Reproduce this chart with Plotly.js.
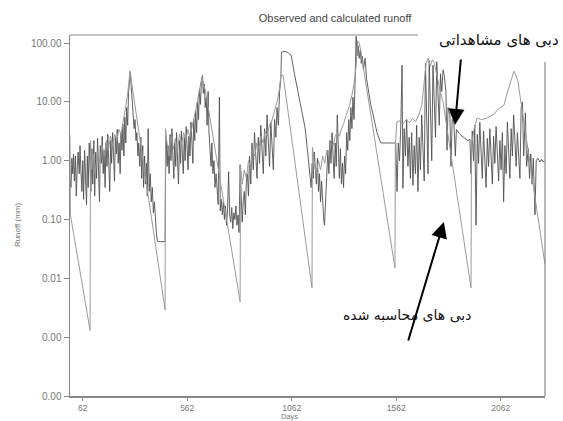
<!DOCTYPE html>
<html>
<head>
<meta charset="utf-8">
<script src="https://cdn.plot.ly/plotly-3.0.1.min.js"></script>
<style>html,body{margin:0;padding:0;background:#fff;}#chart{width:563px;height:421px;}</style>
</head>
<body>
<div id="chart"></div>
<script>
// ---- data ----
const titleText = "Observed and calculated runoff";
const xTitle = "Days";
const yTitle = "Runoff (mm)";
const xTickVals = [62, 562, 1062, 1562, 2062];
const xTickText = ["62", "562", "1062", "1562", "2062"];
const yTickVals = [100, 10, 1, 0.1, 0.01, 0.001, 0.0001];
const yTickText = ["100.00", "10.00", "1.00", "0.10", "0.01", "0.00", "0.00"];
const labelObserved = "دبی های مشاهداتی";
const labelCalculated = "دبی های محاسبه شده";

// light series (with recessions)
const calcDays = [1,3,97,99,105,112,120,128,136,145,155,165,175,185,195,205,215,225,235,245,255,265,275,282,288,292,
456,458,465,475,485,495,505,515,525,535,545,555,565,575,585,595,605,615,625,632,640,650,
815,817,825,835,845,855,865,875,885,895,905,915,925,935,945,955,965,975,985,995,1003,1010,1021,
1159,1161,1170,1180,1190,1200,1210,1220,1230,1240,1250,1260,1270,1280,1290,1300,1310,1320,1330,1340,1350,1360,1370,1378,1385,1392,
1556,1558,1565,1580,1595,1610,1625,1640,1655,1670,1685,1695,1705,1715,1725,1735,1745,1755,1765,1775,1786,
1920,1922,1935,1949,1970,1997,2015,2030,2050,2078,2090,2100,2112,2125,2135,2145,2154,2274];
const calcRunoff = [2.7,0.12,0.0013,2.2,0.7,1.3,0.6,1.1,1.6,0.9,1.8,1.2,2.2,1.5,2.6,1.8,2.8,2.2,3.4,2.8,4.5,7,12,20,34,26,
0.0029,3.5,2.0,1.2,2.6,1.6,2.4,1.4,2.8,1.9,3.0,2.2,3.4,2.5,4.0,5.5,8,12,18,26,20,15,
0.004,0.85,0.4,0.7,0.5,1.0,0.8,1.5,1.2,2.0,1.6,2.6,2.0,3.2,2.6,4.0,4.5,6,8,11,17,28,28,
0.0069,1.7,0.9,0.6,1.0,0.7,1.2,0.9,1.5,1.2,2.0,1.8,2.6,3.0,2.6,3.5,4.2,5.5,7,9,13,20,40,110,100,75,
0.015,1.8,4.5,4.8,4.2,5.0,4.4,5.2,4.6,6,9,20,45,55,40,52,45,30,20,14,10,
0.0069,1.8,3.5,5.3,5.0,5.3,5.8,6.2,7.5,8.8,13,17,24,33,28,22,13,0.017];

// dark noisy series
const obsDays = [1,6,10,14,18,22,27,31,36,40,45,49,53,58,62,66,71,75,80,84,88,93,97,101,106,110,115,119,124,128,133,137,142,146,151,155,160,164,169,173,178,182,187,191,196,200,205,209,214,218,223,227,232,236,241,245,250,254,259,263,268,272,277,281,286,290,294,299,303,308,312,317,321,326,330,335,340,344,349,353,358,362,367,371,375,380,385,390,395,400,405,410,415,420,456,458,462,466,
470,475,480,484,489,493,498,502,507,511,516,520,525,530,534,539,543,548,552,557,561,566,570,575,580,584,589,593,598,602,607,611,616,620,625,630,635,639,644,648,653,657,662,666,671,676,680,685,690,695,700,705,710,716,720,725,730,735,740,745,750,755,760,765,770,775,780,785,790,795,800,805,810,815,820,825,830,835,840,845,
850,855,860,866,872,878,884,890,896,902,908,914,920,926,932,938,944,950,956,962,968,974,980,986,992,998,1004,1010,1013,1030,1045,1054,1059,1075,1092,1110,1126,1140,1150,
1155,1160,1165,1170,1175,1180,1185,1190,1195,1200,1205,1210,1215,1219,1225,1230,1235,1240,1245,1250,1255,1260,1265,1270,1275,1280,1285,1290,1295,1300,1305,1310,1315,1320,1325,1330,1335,1340,1345,1350,1355,1360,1365,1370,1375,1380,1385,1390,1395,1400,1405,1413,1420,1430,1440,1455,1470,1488,1500,1520,1540,1560,
1566,1572,1578,1584,1590,1594,1600,1606,1612,1618,1624,1630,1636,1642,1648,1654,1660,1666,1672,1678,1684,1690,1696,1702,1708,1714,1720,1726,1732,1738,1744,1750,1756,1762,1768,1774,1780,1786,1792,1800,1805,1810,1819,1824,1830,1838,1845,1850,1867,1890,1905,1915,
1920,1926,1932,1938,1944,1950,1956,1962,1968,1974,1980,1986,1992,1998,2004,2010,2016,2022,2028,2034,2040,2046,2052,2058,2064,2070,2076,2082,2088,2094,2100,2106,2112,2118,2124,2130,2136,2142,2148,2154,2160,2166,2172,2180,2186,2194,2200,2206,2212,2218,2226,2232,2240,2250,2258,2266,2272];
const obsRunoff = [0.5,0.35,1.1,0.6,1.3,0.45,1.2,0.25,0.8,1.4,0.6,1.8,0.7,0.3,1.0,0.22,1.5,0.5,0.18,1.2,0.35,2.0,0.6,0.3,1.6,0.4,2.2,0.25,1.4,0.5,2.4,0.7,0.2,1.8,0.9,2.6,0.6,1.5,0.35,2.0,0.8,2.8,1.0,0.3,2.2,0.9,3.0,1.1,0.45,2.5,1.3,3.4,0.9,2.0,0.6,3.0,1.5,4.2,1.2,5.5,2.0,8,4,14,24,32,18,10,6,3.5,5,2.2,3.0,1.2,2.0,0.8,2.5,0.5,1.8,0.35,1.2,0.4,0.9,0.25,3.5,0.3,0.6,0.2,0.35,0.13,0.2,0.08,0.055,0.042,0.042,0.5,2.5,0.8,
1.8,0.6,2.8,1.0,3.5,1.2,0.5,2.0,0.8,3.0,1.1,0.4,2.2,0.9,3.2,1.4,0.6,2.5,1.0,3.8,1.5,0.7,2.6,1.2,4.5,2.0,0.9,5.0,2.2,7,3,10,5,16,9,22,28,14,20,8,12,4,15,3,1.5,0.8,2.0,0.6,1.0,0.35,0.6,0.25,0.18,12,0.14,0.22,0.12,0.2,0.1,0.17,0.08,0.15,0.65,0.12,0.09,0.16,0.07,0.13,0.1,0.17,0.08,0.12,0.06,0.85,0.15,0.09,0.2,0.3,0.12,0.45,
0.6,0.25,1.2,0.4,2.0,0.7,3.0,1.0,0.5,2.5,0.9,4.0,1.5,0.6,3.5,1.2,6,2.0,0.8,4.5,1.8,0.7,5,2.5,8,4,15,25,70,72,68,65,62,30,15,7,3.6,1.2,0.43,
0.35,0.9,0.5,1.4,0.7,0.4,1.1,0.3,0.6,0.2,0.45,0.15,0.1,0.08,0.3,0.7,1.5,0.6,2.2,0.9,3.0,1.2,0.5,2.0,0.8,6.0,1.0,0.5,1.6,0.4,0.9,0.35,1.2,0.6,3.0,1.5,5,2.2,8,3.5,12,5,20,130,60,90,55,75,45,60,35,55,25,15,9,5.3,3,2,2,2,2,2,
0.3,2.0,1.0,4.0,42,0.34,3.5,1.2,5,0.8,2.5,0.5,3.0,0.38,1.8,0.6,4.0,0.3,2.5,0.7,6,1.2,0.45,45,3,0.6,50,8,1.0,42,12,2.5,48,18,4,30,15,35,28,15,1.5,8,6,0.8,5,4.5,1.2,3.4,2.8,2.4,2.2,2.3,
0.6,3.2,1.0,4.0,0.08,2.8,0.9,4.5,1.4,0.5,3.2,1.0,0.35,2.4,0.8,3.5,1.2,0.4,2.6,0.9,3.8,1.3,0.45,2.2,0.7,3.0,0.2,1.8,0.6,4.5,1.5,0.5,3.5,1.2,6,2.0,0.8,3.0,1.2,0.5,8,10,1.2,6.5,0.8,1.6,0.5,1.3,0.4,1.1,0.12,1.0,1.1,0.95,1.05,0.95,1.0];

// ---- chart ----
const traces = [
  {x: obsDays, y: obsRunoff, type: 'scatter', mode: 'lines', name: 'observed',
   line: {color: '#505050', width: 0.9}},
  {x: calcDays, y: calcRunoff, type: 'scatter', mode: 'lines', name: 'calculated',
   line: {color: '#9a9a9a', width: 1}}
];

const layout = {
  width: 563, height: 421,
  margin: {l: 70, r: 18, t: 35, b: 25},
  paper_bgcolor: '#ffffff', plot_bgcolor: '#ffffff',
  showlegend: false,
  font: {family: 'Liberation Sans, Arial, sans-serif', color: '#666'},
  title: {text: titleText, font: {size: 11, color: '#444'},
          x: 0.558, xref: 'paper', xanchor: 'center', y: 0.957, yref: 'container', yanchor: 'middle'},
  xaxis: {range: [1, 2274], tickmode: 'array', tickvals: xTickVals, ticktext: xTickText,
          ticks: 'outside', ticklen: 3, tickcolor: '#888', showline: true, linecolor: '#888', linewidth: 1.5,
          showgrid: false, zeroline: false, tickfont: {size: 8.5, color: '#777'}},
  yaxis: {type: 'log', range: [-4, 2.136], tickmode: 'array', tickvals: yTickVals, ticktext: yTickText,
          ticks: 'outside', ticklen: 5, tickcolor: '#888', showline: true, linecolor: '#888', linewidth: 1.5,
          showgrid: false, zeroline: false, tickfont: {size: 10, color: '#777'}},
  shapes: [
    {type: 'line', xref: 'paper', yref: 'paper', x0: 0, x1: 0.7326, y0: 1, y1: 1, line: {color: '#888', width: 1.2}},
    {type: 'line', xref: 'paper', yref: 'paper', x0: 1, x1: 1, y0: 0, y1: 0.925, line: {color: '#888', width: 1.2}}
  ],
  annotations: [
    {text: yTitle, xref: 'paper', yref: 'paper', x: -0.109, y: 0.474, showarrow: false, textangle: -90,
     font: {size: 8, color: '#777'}, xanchor: 'center', yanchor: 'middle'},
    {text: xTitle, xref: 'paper', yref: 'paper', x: 0.463, y: -0.072, showarrow: false, borderpad: 0,
     font: {size: 7.5, color: '#777'}, xanchor: 'center', yanchor: 'bottom'},
    {text: labelObserved, xref: 'paper', yref: 'paper', x: 0.903, y: 0.986, showarrow: false,
     font: {family: 'DejaVu Sans', size: 15, color: '#111'}, xanchor: 'center', yanchor: 'middle'},
    {text: labelCalculated, xref: 'paper', yref: 'paper', x: 0.7095, y: 0.2244, showarrow: false,
     font: {family: 'DejaVu Sans', size: 14, color: '#111'}, xanchor: 'center', yanchor: 'middle'},
    {text: '', xref: 'paper', yref: 'paper', x: 0.8105, y: 0.7507, showarrow: true, ax: 6, ay: -67,
     arrowhead: 2, arrowsize: 1.6, arrowwidth: 2, arrowcolor: '#000'},
    {text: '', xref: 'paper', yref: 'paper', x: 0.787, y: 0.482, showarrow: true, ax: -36, ay: 120,
     arrowhead: 2, arrowsize: 1.6, arrowwidth: 2, arrowcolor: '#000'}
  ]
};

Plotly.newPlot('chart', traces, layout, {displayModeBar: false, staticPlot: true});
</script>
</body>
</html>
